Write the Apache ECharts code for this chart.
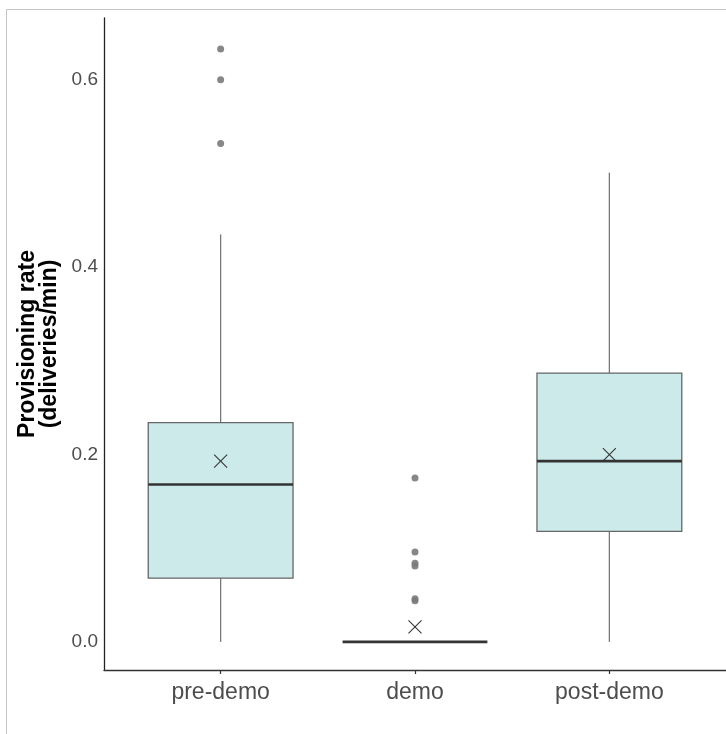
<!DOCTYPE html>
<html><head><meta charset="utf-8">
<script src="https://cdn.jsdelivr.net/npm/echarts@6/dist/echarts.min.js"></script>
<style>html,body{margin:0;padding:0;background:#fff}#c{width:726px;height:734px}</style>
</head><body><div id="c"></div>
<script>
const categories = ['pre-demo', 'demo', 'post-demo'];
const whiskerLow = [0, 0, 0];
const q1 = [0.068, 0, 0.118];
const medians = [0.168, 0, 0.193];
const q3 = [0.234, 0, 0.287];
const whiskerHigh = [0.435, 0, 0.501];
const means = [0.193, 0.016, 0.200];
const outliersPre = [0.633, 0.600, 0.532];
const outliersDemo = [0.175, 0.096, 0.084, 0.081, 0.046, 0.044];
const outliersPost = [];
const yTicks = [0, 0.2, 0.4, 0.6];
const yTitle = 'Provisioning rate\n(deliveries/min)';

const boxData = categories.map((c, i) => [i + 1, whiskerLow[i], q1[i], medians[i], q3[i], whiskerHigh[i]]);
const meanData = categories.map((c, i) => [i + 1, means[i]]);
const outlierData = [];
[outliersPre, outliersDemo, outliersPost].forEach((arr, i) => arr.forEach(v => outlierData.push([i + 1, v])));

const FONT = 'Liberation Sans, Arial, sans-serif';
const chart = echarts.init(document.getElementById('c'), null, {renderer: 'canvas'});
chart.setOption({
  animation: false,
  backgroundColor: '#fff',
  graphic: [{
    type: 'rect', shape: {x: 6.5, y: 9.5, width: 760, height: 760},
    style: {fill: 'none', stroke: '#c4c4c4', lineWidth: 1}, z: -10, silent: true
  }],
  grid: {left: 104, top: 18, width: 623, height: 652, containLabel: false},
  xAxis: {
    type: 'value', min: 0.4, max: 3.6,
    axisLine: {show: true, onZero: false, lineStyle: {color: '#333', width: 1.3}},
    axisTick: {show: true, customValues: [1, 2, 3], length: 4, lineStyle: {color: '#333', width: 1.2}},
    axisLabel: {customValues: [1, 2, 3], formatter: v => categories[Math.round(v) - 1],
      color: '#4d4d4d', fontSize: 23, fontFamily: FONT, margin: 11},
    splitLine: {show: false}
  },
  yAxis: {
    type: 'value', min: -0.03, max: 0.666,
    name: yTitle, nameLocation: 'middle', nameRotate: 90, nameGap: 39,
    nameTextStyle: {color: '#000', fontSize: 23, fontWeight: 'bold', fontFamily: FONT, lineHeight: 22},
    axisLine: {show: true, onZero: false, lineStyle: {color: '#222', width: 1.3}},
    axisTick: {show: false},
    axisLabel: {customValues: yTicks, formatter: v => v.toFixed(1),
      color: '#4d4d4d', fontSize: 19, fontFamily: FONT, margin: 6},
    splitLine: {show: false}
  },
  series: [
    {
      type: 'custom',
      data: boxData,
      encode: {x: 0, y: [1, 2, 3, 4, 5]},
      renderItem: function (params, api) {
        const x = api.value(0);
        const w = api.size([0.745, 0])[0];
        const pLow = api.coord([x, api.value(1)]);
        const pQ1 = api.coord([x, api.value(2)]);
        const pMed = api.coord([x, api.value(3)]);
        const pQ3 = api.coord([x, api.value(4)]);
        const pHigh = api.coord([x, api.value(5)]);
        const cx = pMed[0];
        const children = [];
        if (pLow[1] - pQ1[1] > 0.5) children.push({type: 'line', shape: {x1: cx, y1: pLow[1], x2: cx, y2: pQ1[1]}, style: {stroke: '#777', lineWidth: 1.3}});
        if (pQ3[1] - pHigh[1] > 0.5) children.push({type: 'line', shape: {x1: cx, y1: pQ3[1], x2: cx, y2: pHigh[1]}, style: {stroke: '#777', lineWidth: 1.3}});
        if (pQ1[1] - pQ3[1] > 0.5) children.push({type: 'rect', shape: {x: cx - w / 2, y: pQ3[1], width: w, height: pQ1[1] - pQ3[1]}, style: {fill: '#cdeaeb', stroke: '#666', lineWidth: 1.3}});
        children.push({type: 'line', shape: {x1: cx - w / 2, y1: pMed[1], x2: cx + w / 2, y2: pMed[1]}, style: {stroke: '#333', lineWidth: 2.6}});
        return {type: 'group', children: children};
      },
      z: 2
    },
    {
      type: 'scatter',
      data: outlierData,
      symbol: 'circle', symbolSize: 7,
      itemStyle: {color: '#7a7a7a', opacity: 0.9},
      z: 3
    },
    {
      type: 'custom',
      data: meanData,
      encode: {x: 0, y: 1},
      renderItem: function (params, api) {
        const p = api.coord([api.value(0), api.value(1)]);
        const h = 6.5;
        return {type: 'group', children: [
          {type: 'line', shape: {x1: p[0] - h, y1: p[1] - h, x2: p[0] + h, y2: p[1] + h}, style: {stroke: '#333', lineWidth: 1.1}},
          {type: 'line', shape: {x1: p[0] - h, y1: p[1] + h, x2: p[0] + h, y2: p[1] - h}, style: {stroke: '#333', lineWidth: 1.1}}
        ]};
      },
      z: 4
    }
  ]
});
</script>
</body></html>
